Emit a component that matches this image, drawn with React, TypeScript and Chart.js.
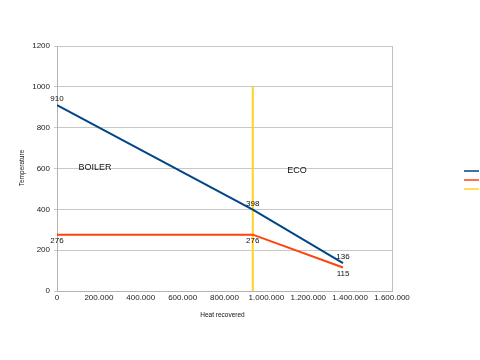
import React, { useEffect, useRef } from "react";
import { Chart, registerables } from "chart.js";

Chart.register(...registerables);

// Data
const heatRecovered = [0, 935000, 1366000];
const gasTemps = [910, 398, 136];
const waterTemps = [276, 276, 115];
const dividerX = [935000, 935000];
const dividerY = [0, 1000];
const sectionLabels = ["BOILER", "ECO"];
const sectionLabelX = [181000, 1146000];
const sectionLabelY = [603, 590];
const xTitle = "Heat recovered";
const yTitle = "Temperature";

const BLUE = "#004586";
const ORANGE = "#ff420e";
const YELLOW = "#ffd320";

const fmtDots = (v: number) =>
  Math.round(v)
    .toString()
    .replace(/\B(?=(\d{3})+(?!\d))/g, ".");

const extrasPlugin = {
  id: "extras",
  afterDatasetsDraw(chart: any) {
    const { ctx, scales } = chart;
    const xs = scales.x;
    const ys = scales.y;
    ctx.save();
    ctx.fillStyle = "#111";
    ctx.font = "8px 'Liberation Sans', Arial, sans-serif";
    ctx.textAlign = "center";
    ctx.textBaseline = "middle";
    heatRecovered.forEach((x, i) => {
      const px = xs.getPixelForValue(x);
      ctx.fillText(String(gasTemps[i]), px, ys.getPixelForValue(gasTemps[i]) - 6);
      ctx.fillText(String(waterTemps[i]), px, ys.getPixelForValue(waterTemps[i]) + 6);
    });
    ctx.font = "9px 'Liberation Sans', Arial, sans-serif";
    sectionLabels.forEach((t, i) => {
      ctx.fillText(t, xs.getPixelForValue(sectionLabelX[i]), ys.getPixelForValue(sectionLabelY[i]));
    });
    // axis titles
    ctx.font = "6.5px 'Liberation Sans', Arial, sans-serif";
    ctx.fillText(xTitle, (xs.left + xs.right) / 2 - 2, 315);
    ctx.save();
    ctx.translate(22, 168);
    ctx.rotate(-Math.PI / 2);
    ctx.fillText(yTitle, 0, 0);
    ctx.restore();
    // legend
    chart.data.datasets.forEach((ds: any, i: number) => {
      ctx.strokeStyle = ds.borderColor;
      ctx.lineWidth = 1.5;
      ctx.beginPath();
      ctx.moveTo(464, 171 + i * 9);
      ctx.lineTo(479, 171 + i * 9);
      ctx.stroke();
    });
    ctx.restore();
  },
};

export default function App() {
  const ref = useRef<HTMLCanvasElement>(null);
  useEffect(() => {
    if (!ref.current) return;
    const chart = new Chart(ref.current, {
      type: "scatter",
      data: {
        datasets: [
          {
            label: "",
            data: heatRecovered.map((x, i) => ({ x, y: gasTemps[i] })),
            borderColor: BLUE,
            backgroundColor: BLUE,
            showLine: true,
            borderWidth: 2,
            pointRadius: 0,
          },
          {
            label: "",
            data: heatRecovered.map((x, i) => ({ x, y: waterTemps[i] })),
            borderColor: ORANGE,
            backgroundColor: ORANGE,
            showLine: true,
            borderWidth: 2,
            pointRadius: 0,
          },
          {
            label: "",
            data: dividerX.map((x, i) => ({ x, y: dividerY[i] })),
            borderColor: YELLOW,
            backgroundColor: YELLOW,
            showLine: true,
            borderWidth: 2,
            pointRadius: 0,
          },
        ],
      },
      options: {
        responsive: false,
        animation: false,
        layout: { padding: { left: 0, top: 46, right: 88, bottom: 0 } },
        plugins: { legend: { display: false }, tooltip: { enabled: false } },
        scales: {
          x: {
            type: "linear",
            min: 0,
            max: 1600000,
            afterFit: (s: any) => {
              s.height = 69;
            },
            ticks: {
              stepSize: 200000,
              color: "#222",
              font: { size: 8, family: "'Liberation Sans', Arial, sans-serif" },
              padding: 2,
              maxRotation: 0,
              callback: (v: any) => fmtDots(Number(v)),
            },
            grid: {
              color: (c: any) => (c.tick && c.tick.value === 1600000 ? "#c0c0c0" : "rgba(0,0,0,0)"),
              tickLength: 3,
              drawTicks: false,
            },
            border: { color: "#b3b3b3" },
          },
          y: {
            min: 0,
            max: 1200,
            afterFit: (s: any) => {
              s.width = 57;
            },
            ticks: {
              stepSize: 200,
              color: "#222",
              font: { size: 8, family: "'Liberation Sans', Arial, sans-serif" },
              padding: 4,
              callback: (v: any) => String(v),
            },
            grid: { color: "#c8c8c8", tickLength: 3 },
            border: { color: "#b3b3b3" },
          },
        },
      },
      plugins: [extrasPlugin],
    });
    return () => chart.destroy();
  }, []);
  return (
    <div style={{ position: "absolute", left: 0, top: 0, width: 480, height: 360, background: "#fff" }}>
      <canvas ref={ref} width={480} height={360} />
    </div>
  );
}
